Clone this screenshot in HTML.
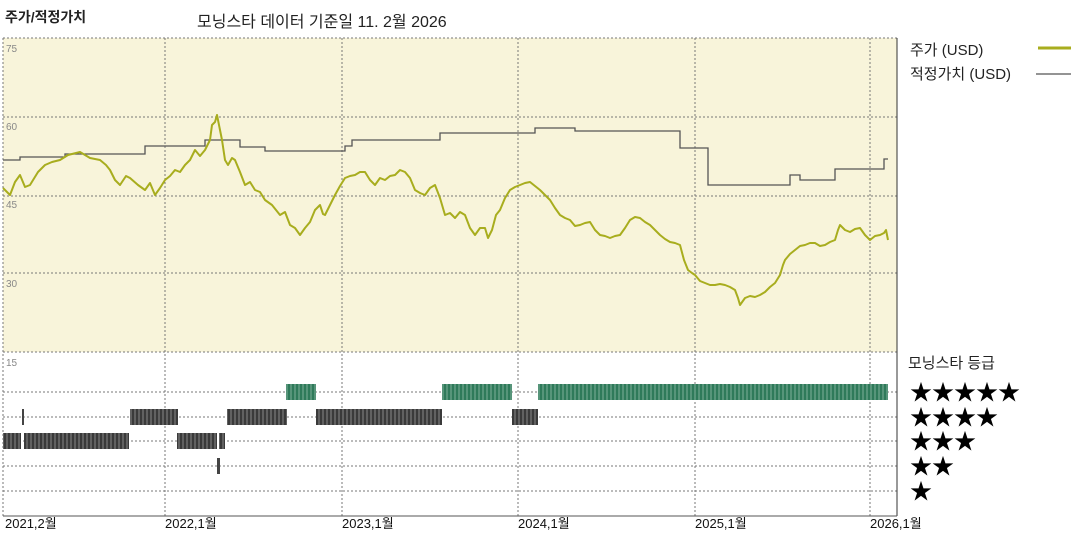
<!DOCTYPE html><html><head><meta charset="utf-8"><style>body{margin:0;background:#fff}svg{display:block}text{font-family:"Liberation Sans","Noto Sans CJK KR",sans-serif}</style></head><body>
<svg width="1080" height="540" viewBox="0 0 1080 540" xmlns="http://www.w3.org/2000/svg">
<defs>
<pattern id="pb" width="4" height="10" patternUnits="userSpaceOnUse"><rect width="4" height="10" fill="#3a3a3a"/><rect x="2.5" width="1" height="10" fill="#888"/></pattern>
<pattern id="pg" width="4" height="10" patternUnits="userSpaceOnUse"><rect width="4" height="10" fill="#2f7a5a"/><rect x="2.5" width="1" height="10" fill="#7fb09a"/></pattern>
</defs>
<text x="5" y="22" font-size="14" font-weight="bold" fill="#222">주가/적정가치</text>
<text x="197" y="27" font-size="16" fill="#222">모닝스타 데이터 기준일 11. 2월 2026</text>
<rect x="3" y="38" width="894" height="314" fill="#f8f4da"/>
<g stroke="#777" stroke-dasharray="2,2" stroke-width="1" fill="none">
<line x1="3" y1="38" x2="897" y2="38"/><line x1="3" y1="117" x2="897" y2="117"/><line x1="3" y1="196" x2="897" y2="196"/><line x1="3" y1="273" x2="897" y2="273"/>
<line x1="3" y1="352" x2="897" y2="352"/>
<line x1="3" y1="392" x2="897" y2="392"/><line x1="3" y1="417" x2="897" y2="417"/><line x1="3" y1="441" x2="897" y2="441"/><line x1="3" y1="466" x2="897" y2="466"/><line x1="3" y1="491" x2="897" y2="491"/>
<line x1="3" y1="38" x2="3" y2="516"/><line x1="165" y1="38" x2="165" y2="516"/><line x1="342" y1="38" x2="342" y2="516"/><line x1="518" y1="38" x2="518" y2="516"/><line x1="695" y1="38" x2="695" y2="516"/><line x1="870" y1="38" x2="870" y2="516"/>
</g>
<line x1="897" y1="38" x2="897" y2="516" stroke="#333"/>
<line x1="3" y1="516" x2="897" y2="516" stroke="#555"/>
<g font-size="10" fill="#888"><text x="6" y="52">75</text><text x="6" y="130">60</text><text x="6" y="208">45</text><text x="6" y="287">30</text><text x="6" y="366">15</text></g>
<polyline fill="none" stroke="#555" stroke-width="1.3" points="3,160 20,160 20,157 65,157 65,154 145,154 145,146 205,146 205,140 240,140 240,147 265,147 265,151 345,151 345,146 352,146 352,140 440,140 440,133 535,133 535,128 575,128 575,131 680,131 680,148 708,148 708,185 790,185 790,175 800,175 800,180 835,180 835,169 884,169 884,159 888,159"/>
<polyline fill="none" stroke="#a8ad1e" stroke-width="2" stroke-linejoin="round" points="3,188 10,195 15,182 20,175 25,187 30,185 38,172 45,165 52,162 60,160 68,155 80,152 90,158 100,160 106,165 110,170 115,180 120,185 126,176 130,178 138,185 145,190 150,183 155,195 160,188 165,180 170,176 175,170 180,172 185,165 190,160 195,150 200,156 205,150 210,140 212,125 215,122 217,115 220,130 222,140 225,160 228,165 232,158 235,160 240,172 245,185 250,182 255,190 260,192 265,200 272,205 280,215 285,212 290,225 295,228 300,235 305,228 310,222 315,210 320,205 323,214 325,215 330,205 335,195 340,186 345,178 350,176 355,175 360,172 365,172 370,180 375,185 380,178 385,180 390,176 395,175 400,170 405,172 410,178 415,190 420,193 425,195 430,188 435,185 440,198 445,215 450,213 455,218 460,212 465,215 470,228 475,235 480,228 485,228 488,238 492,230 496,215 500,210 505,198 510,190 515,187 520,185 525,183 530,182 535,186 540,190 545,195 550,200 555,208 560,215 565,218 570,220 575,226 580,225 585,223 590,222 595,230 600,235 605,236 610,238 615,236 620,235 625,228 630,220 635,217 640,218 645,222 650,225 655,230 660,235 665,239 670,242 675,243 680,245 684,260 688,270 692,273 695,275 700,281 705,283 710,285 715,285 720,284 725,285 730,287 735,290 738,298 740,305 745,298 750,296 755,297 760,295 765,292 770,287 775,283 780,275 783,265 785,260 790,254 795,250 800,246 805,245 810,243 815,243 820,246 825,245 830,242 835,240 838,230 840,225 845,230 850,232 855,229 860,228 865,235 870,240 875,236 880,235 884,233 886,230 888,240"/>
<g>
<rect x="286" y="384" width="30" height="16" fill="url(#pg)"/><rect x="442" y="384" width="70" height="16" fill="url(#pg)"/><rect x="538" y="384" width="350" height="16" fill="url(#pg)"/>
<rect x="22" y="409" width="2" height="16" fill="#444"/><rect x="130" y="409" width="48" height="16" fill="url(#pb)"/><rect x="227" y="409" width="60" height="16" fill="url(#pb)"/><rect x="316" y="409" width="126" height="16" fill="url(#pb)"/><rect x="512" y="409" width="26" height="16" fill="url(#pb)"/>
<rect x="3" y="433" width="18" height="16" fill="url(#pb)"/><rect x="24" y="433" width="105" height="16" fill="url(#pb)"/><rect x="177" y="433" width="40" height="16" fill="url(#pb)"/><rect x="219" y="433" width="6" height="16" fill="url(#pb)"/>
<rect x="217" y="458" width="3" height="16" fill="#444"/>
</g>
<g font-size="13" fill="#111"><text x="5" y="528">2021,2월</text><text x="165" y="528">2022,1월</text><text x="342" y="528">2023,1월</text><text x="518" y="528">2024,1월</text><text x="695" y="528">2025,1월</text><text x="870" y="528">2026,1월</text></g>
<g font-size="15" fill="#222"><text x="910" y="55">주가 (USD)</text><text x="910" y="79">적정가치 (USD)</text><text x="908" y="368">모닝스타 등급</text></g>
<line x1="1038" y1="48" x2="1071" y2="48" stroke="#a8ad1e" stroke-width="3"/>
<line x1="1036" y1="74" x2="1071" y2="74" stroke="#555" stroke-width="1.3"/>
<g font-size="22" fill="#000"><text x="910" y="400">★★★★★</text><text x="910" y="425">★★★★</text><text x="910" y="449">★★★</text><text x="910" y="474">★★</text><text x="910" y="499">★</text></g>
</svg></body></html>
